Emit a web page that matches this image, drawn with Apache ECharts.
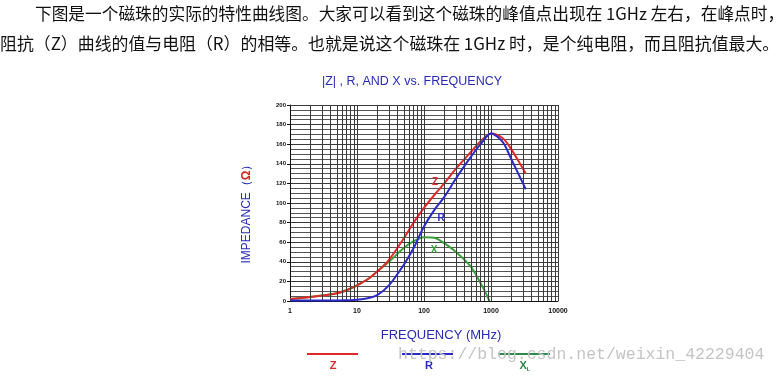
<!DOCTYPE html>
<html>
<head>
<meta charset="utf-8">
<script src="https://cdn.jsdelivr.net/npm/echarts@6/dist/echarts.min.js"></script>
<style>
  html, body { margin: 0; padding: 0; background: #fff; }
  #main { width: 780px; height: 377px; }
</style>
</head>
<body>
<div id="main"></div>
<script>
// 频率 (MHz) 与阻抗 (Ω)
var freq = [1, 2, 3, 5, 7, 10, 15, 20, 30, 50, 70, 100, 150, 200, 300, 500, 700, 1000, 1500, 2000, 3000, 3300];
var zVals = [2, 4, 5.5, 8, 11, 16, 23, 30, 42, 64, 80, 95, 110, 120, 135, 152, 163, 171, 166, 155, 135, 130];
var rVals = [0.5, 0.5, 0.5, 0.5, 0.8, 1.2, 3, 6, 16, 37, 54, 76, 95, 106, 125, 147, 160, 171, 162, 145, 120, 114];
var xFreq = [1, 2, 3, 5, 7, 10, 15, 20, 30, 50, 70, 100, 150, 200, 300, 500, 700, 850, 950];
var xVals = [2, 4, 5.5, 8, 11, 16, 23, 30, 40, 54, 61, 65, 64, 59, 50, 35, 18, 7, 0];
var xTicks = [1, 10, 100, 1000, 10000];

function pairs(fs, vs) {
    return fs.map(function (f, i) { return [f, vs[i]]; });
}

// 对数坐标的次网格线 2..9
var minorX = [];
for (var d = 0; d < xTicks.length - 1; d++) {
    for (var k = 2; k <= 9; k++) {
        minorX.push({xAxis: k * xTicks[d]});
    }
}

var myChart = echarts.init(document.getElementById('main'));
var gridColor = '#3a3a3a';

function curveLabel(text, color, at) {
    return {
        symbol: 'rect',
        symbolSize: 1,
        silent: true,
        itemStyle: {color: 'rgba(0,0,0,0)'},
        data: [{
            coord: at,
            label: {show: true, position: 'inside', formatter: text, color: color, fontSize: 10, fontWeight: 'bold', fontFamily: 'Arial'}
        }]
    };
}

option = {
    animation: false,
    grid: {left: 290, right: 222, top: 105, bottom: 76},
    graphic: [
        {type: 'text', left: 35, top: 5, style: {text: '下图是一个磁珠的实际的特性曲线图。大家可以看到这个磁珠的峰值点出现在 1GHz 左右，在峰点时，', fill: '#111', font: '16.7px "Noto Sans CJK SC"'}},
        {type: 'text', left: 0, top: 35, style: {text: '阻抗（Z）曲线的值与电阻（R）的相等。也就是说这个磁珠在 1GHz 时，是个纯电阻，而且阻抗值最大。', fill: '#111', font: '16.9px "Noto Sans CJK SC"'}},
        {type: 'text', x: 412, y: 82, style: {text: '|Z| , R, AND X vs. FREQUENCY', fill: '#2a2ab8', font: '12.5px Arial', align: 'center', verticalAlign: 'middle'}},
        {type: 'text', x: 441, y: 335, style: {text: 'FREQUENCY (MHz)', fill: '#2a2ab8', font: '13px Arial', align: 'center', verticalAlign: 'middle'}},
        {type: 'text', x: 247, y: 211, rotation: Math.PI / 2, style: {
            text: '{a|IMPEDANCE（}{b|Ω}{a|）}', align: 'center', verticalAlign: 'middle',
            rich: {a: {fill: '#2a2ab8', font: '12px Arial'}, b: {fill: '#d02020', font: 'bold 12px Arial'}}
        }},
        // 图例
        {type: 'line', shape: {x1: 307, y1: 354, x2: 358, y2: 354}, style: {stroke: '#e02a2a', lineWidth: 2}},
        {type: 'text', x: 333, y: 366, style: {text: 'Z', fill: '#e02a2a', font: 'bold 11px Arial', align: 'center', verticalAlign: 'middle'}},
        {type: 'line', shape: {x1: 402, y1: 354, x2: 453, y2: 354}, style: {stroke: '#2a2ac8', lineWidth: 2}},
        {type: 'text', x: 429, y: 366, style: {text: 'R', fill: '#2a2ac8', font: 'bold 11px Arial', align: 'center', verticalAlign: 'middle'}},
        {type: 'line', shape: {x1: 498, y1: 354, x2: 550, y2: 354}, style: {stroke: '#2a8a4a', lineWidth: 2}},
        {type: 'text', x: 525, y: 366, style: {
            text: '{a|X}{b|L}', align: 'center', verticalAlign: 'middle',
            rich: {a: {fill: '#2a8a4a', font: 'bold 11px Arial'}, b: {fill: '#2a8a4a', font: 'bold 6px Arial', padding: [6, 0, 0, 0]}}
        }},
        {type: 'text', x: 398, y: 355, style: {text: 'https://blog.csdn.net/weixin_42229404', fill: '#c4c4c4', font: '16.5px "Liberation Mono"', verticalAlign: 'middle'}}
    ],
    xAxis: {
        type: 'log',
        logBase: 10,
        min: 1,
        max: 10000,
        axisLine: {show: true, lineStyle: {color: '#111'}},
        axisTick: {show: false},
        axisLabel: {color: '#111', fontSize: 7, fontWeight: 'bold', fontFamily: 'Arial', margin: 7,
            formatter: function (v) { return String(Math.round(v)); }},
        splitLine: {show: true, lineStyle: {color: gridColor, width: 1}}
    },
    yAxis: {
        type: 'value',
        min: 0,
        max: 200,
        interval: 20,
        axisLine: {show: true, lineStyle: {color: '#111'}},
        axisTick: {show: true, length: 3, lineStyle: {color: '#111'}},
        axisLabel: {color: '#111', fontSize: 6, fontWeight: 'bold', fontFamily: 'Arial', margin: 4},
        splitLine: {show: true, lineStyle: {color: gridColor, width: 1}},
        minorTick: {show: true, splitNumber: 4, length: 0},
        minorSplitLine: {show: true, lineStyle: {color: '#555', width: 1}}
    },
    series: [
        {
            name: 'Z', type: 'line', smooth: 0.3, showSymbol: false, data: pairs(freq, zVals),
            lineStyle: {color: '#e02a2a', width: 2}, z: 4,
            markLine: {
                silent: true, symbol: 'none', label: {show: false},
                lineStyle: {color: gridColor, width: 1, type: 'solid'},
                data: minorX.concat([{xAxis: 10000}, {yAxis: 200}])
            },
            markPoint: curveLabel('Z', '#e02a2a', [146, 121])
        },
        {
            name: 'R', type: 'line', smooth: 0.3, showSymbol: false, data: pairs(freq, rVals),
            lineStyle: {color: '#2a2ac8', width: 2}, z: 5,
            markPoint: curveLabel('R', '#2a2ac8', [180, 84])
        },
        {
            name: 'X', type: 'line', smooth: 0.3, showSymbol: false, data: pairs(xFreq, xVals),
            lineStyle: {color: '#3aa03a', width: 2}, z: 3,
            markPoint: curveLabel('X', '#3aa03a', [141, 52])
        }
    ]
};

myChart.setOption(option);
</script>
</body>
</html>
